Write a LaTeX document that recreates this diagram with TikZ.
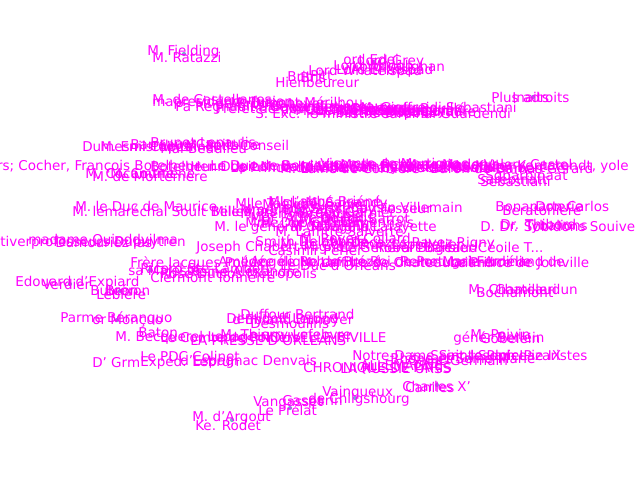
\documentclass[tikz,border=0pt]{standalone}
\usepackage{fontspec}
\setmainfont{DejaVu Sans}
\definecolor{lblc}{HTML}{FF00FF}
\definecolor{dotc}{HTML}{1F77B4}
\tikzset{
  lbl/.style={text=lblc, inner sep=0pt, anchor=west, font=\fontsize{9.6}{11}\selectfont},
  dotnode/.style={circle, fill=dotc, inner sep=0pt, minimum size=3pt, opacity=0.6}
}
\begin{document}
\begin{tikzpicture}[x=0.025cm, y=-0.025cm]
\useasboundingbox (0,0) rectangle (640,480);
% small node dots
\foreach \x/\y [count=\i] in {184/54, 374/62, 533/97, 70/284, 120/291, 117/320, 232/420, 290/408, 437/385, 355/398, 470/358, 150/270, 300/210, 420/110}
  \node[dotnode] (d\i) at (\x,\y) {};
% labels: left x / y / text
\foreach \x/\y/\t [count=\i] in {
147/52/{M. Fielding}, 152/57/{M. Ratazzi},
343/59/{ord Edei}, 358/62/{Lord Grey}, 333/67/{Lord Wangh}, 352/68/{Lord Vaughan}, 308/72/{Lord Whatelspad}, 336/71/{Lord Ehatspad},
287/76/{Brit}, 300/77/{Bris}, 310/75/{Pitt}, 275/82/{Hienbeureur},
491/97/{Plus adroits}, 512/97/{Inaits},
152/99/{M. de Castellanes}, 152/103/{mapresidence fusion}, 175/108/{Pa Regnault}, 195/105/{M. de Broglie Loyer},
255/113/{S. Exc. le ministre}, 250/106/{M. de Lamartine}, 285/109/{M. Guizot Périer}, 310/110/{M. Thiers Soffroi},
330/108/{Le Comte de Bouillé}, 345/112/{M. de Montguyon}, 360/107/{M. Gioffreidi Sebastiani}, 380/113/{Cardinal Guardendi}, 315/114/{M. Barthe Dupont},
215/110/{Préfet de police}, 230/104/{M. Dupont Mérilhou}, 270/106/{Garde des sceaux}, 295/112/{M. de Rigny Sébastiani}, 340/110/{M. Persil Humann}, 365/111/{M. Molé Dufaure},
100/146/{M. Emistoires}, 82/148/{Dumesnil Capitaine}, 130/146/{Barreaux Capitaine}, 160/148/{Mal Beaulieu}, 185/145/{M. Petit Conseil}, 150/144/{Brunet Lepaulis},
-48/167/{Ouvriers; Cocher, François Botelheur}, 190/166/{Henri de Lamballe Villiers}, 230/167/{Le Prince de Villèle}, 260/166/{M. de Villiers Saint-Clair},
300/167/{Duc de Rohan-Chabot Gauthier}, 340/166/{M. de Polignac Marigny}, 380/167/{Comte de Montalembert}, 405/166/{Marquis de Valory Castel}, 455/167/{Le Keller Kentarendt, yole},
150/168/{Botelheur Dupin}, 210/165/{Le Duc de Bordeaux}, 280/168/{M. Lainé de Corbière}, 320/165/{Vicomte de Martignac}, 360/168/{M. Hyde de Neuville}, 430/168/{Baron de Damas Gérard},
85/174/{M. Cocamtne}, 92/176/{M. de Mortemère}, 110/173/{M. Coumène}, 477/179/{Sarebinatt}, 485/177/{Sgbarbinaat}, 480/181/{Sebastiani},
75/206/{M. le Duc de Maurice}, 72/211/{M. lemaréchal Soult Belles}, 212/211/{Mile Mars}, 240/209/{Mme. Dorval},
268/201/{ML l'abbé Briéné}, 262/206/{M. Debelleyme}, 270/210/{M. de Sassenay Fesseur}, 240/215/{M. Berryer Clausel}, 250/219/{Mgr. Affre de Paris},
214/228/{M. le général Cavaignac}, 260/224/{M. Dupin Thiery}, 290/228/{M. Mauguin Lafayette}, 300/218/{M. Odilon Barrot}, 305/204/{M. Salvandy},
235/205/{Mlle Taglioni}, 245/222/{Mme. de Girardin}, 280/214/{M. Arago Garnier}, 320/222/{M. Lamennais}, 330/207/{M. Cousin Villemain}, 275/231/{M. Laffitte Salverte},
495/208/{Bonaparterie}, 502/210/{Beratonière}, 535/206/{Don Carlos}, 480/226/{D. Dr. Sobidons Souive}, 525/227/{Tybalions}, 500/224/{Dr. Thibord},
0/243/{tiverprofesseurs Dupuytren}, 28/240/{madame Quinddvilma}, 55/242/{Dumouriez las},
196/248/{Joseph Chabert Mignet}, 255/241/{Smith Delaborde}, 280/246/{M. de Cormenin Lepelletier}, 330/244/{M. Decazes Ravez Rigny}, 375/247/{Robert Barbier Céoile T...},
300/240/{M. Royer-Collard}, 340/249/{Le Général Bugeaud}, 268/250/{Casimir Perier},
218/261/{Amédée de Rohan}, 130/264/{Frère Jacques Pollux}, 250/263/{Angélique de Brézé}, 300/262/{M. Laffitte de Chateaubriand}, 350/263/{Le Roi de Portugal Ferdinand de},
280/265/{Le Duc d'Orléans}, 400/261/{Reine Marie-Amélie}, 450/264/{Le Prince de Joinville},
128/272/{sa Majesté}, 140/268/{Ricord Ste-Lambert}, 160/275/{Rose Duclos Métropolis}, 190/271/{Reine Alexandre}, 150/277/{Clermont Tonnerre},
15/283/{Edouard d'Expiard}, 42/284/{Verdier}, 90/291/{Buteon}, 105/290/{Bréron}, 96/294/{Lebière},
468/289/{M. Chamilleri}, 476/292/{Bochamont}, 495/289/{Chateaudun},
60/319/{Parme Béranquo}, 92/321/{or Monçuo},
226/318/{Demidoff Lerond}, 240/314/{Duffour Bertrand}, 232/321/{d'Ebland Dunoyer}, 250/323/{Desmoulins},
138/333/{Baton}, 115/338/{M. Becquerel Lepage}, 160/337/{Le Comte de Poitiers}, 190/339/{LA PRESSE D'ORLÉANS}, 260/338/{NOUVELLE BIVILLE}, 220/336/{M. Thierry Lefebvre},
470/334/{M. Poivin}, 453/339/{génér Berlein}, 480/338/{Gobelein},
140/356/{Le PDC Colinet}, 92/363/{D' Grm}, 140/363/{Expéd. Lebrun}, 180/362/{d'Espagnac Denvais},
352/357/{Notre-Dame Saint-Sulpice}, 390/358/{Rhône et Seine-Marie}, 430/357/{Saint-Joseph Lazaristes}, 470/357/{le Pape Pie IX}, 410/360/{Saint-Germain},
303/368/{CHRONIQUE DE PARIS}, 340/369/{LA RUSSIE URSS}, 360/366/{ALLEMAGNE},
402/386/{Charles X'}, 405/387/{Caniles},
322/393/{Vainqueux}, 253/403/{Vangasset}, 308/400/{de Chilgshourg}, 282/402/{Gasparin}, 258/410/{Le Prélat},
192/418/{M. d'Argout}, 195/425/{Ke. Rodet}
}
  \node[lbl] (n\i) at (\x,\y) {\t};
\end{tikzpicture}
\end{document}
